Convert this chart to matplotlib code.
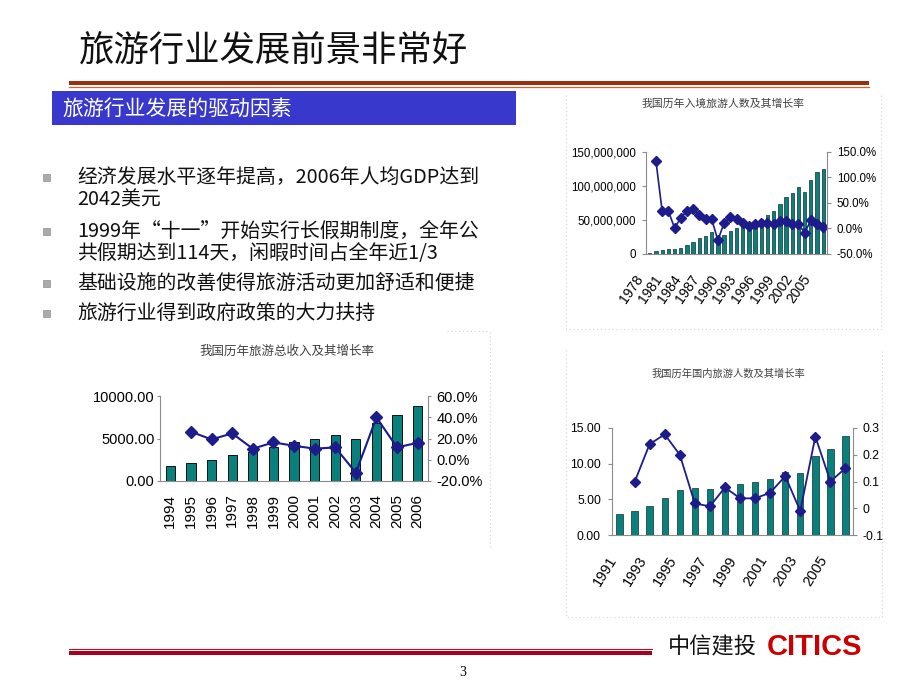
import matplotlib
matplotlib.use('Agg')
import matplotlib.pyplot as plt
from matplotlib import font_manager
from matplotlib.patches import Rectangle
from matplotlib.ticker import FixedLocator, FuncFormatter
from matplotlib.transforms import ScaledTranslation

# ---------------- data ----------------
page_title = "旅游行业发展前景非常好"
section_title = "旅游行业发展的驱动因素"
bullets = [
    ["经济发展水平逐年提高，2006年人均GDP达到", "2042美元"],
    ["1999年“十一”开始实行长假期制度，全年公", "共假期达到114天，闲暇时间占全年近1/3"],
    ["基础设施的改善使得旅游活动更加舒适和便捷"],
    ["旅游行业得到政府政策的大力扶持"],
]

inbound_title = "我国历年入境旅游人数及其增长率"
inbound_years = list(range(1978, 2007))
inbound_visitors = [1.81e6, 4.20e6, 5.70e6, 7.77e6, 7.92e6, 9.48e6, 12.85e6, 17.83e6,
                    22.82e6, 26.90e6, 31.69e6, 24.50e6, 27.46e6, 33.35e6, 38.11e6,
                    41.53e6, 43.68e6, 46.39e6, 51.13e6, 57.59e6, 63.48e6, 72.80e6,
                    83.44e6, 89.01e6, 97.91e6, 91.66e6, 109.04e6, 120.29e6, 124.94e6]
inbound_growth = [1.33, 0.345, 0.345, 0.013, 0.20, 0.35, 0.38, 0.26, 0.18, 0.18,
                  -0.23, 0.11, 0.22, 0.18, 0.10, 0.05, 0.08, 0.10, 0.11, 0.08,
                  0.15, 0.15, 0.08, 0.08, -0.08, 0.16, 0.08, 0.03]   # 1979-2006
inbound_left_ticks = [0, 50e6, 100e6, 150e6]
inbound_right_ticks = [-0.5, 0.0, 0.5, 1.0, 1.5]
inbound_xlabels = [str(y) for y in range(1978, 2007, 3)]

revenue_title = "我国历年旅游总收入及其增长率"
revenue_years = list(range(1994, 2007))
revenue = [1765, 2118, 2510, 3059, 3412, 4000, 4588, 4941, 5451, 4941, 6784, 7725, 8824]
revenue_growth = [0.264, 0.191, 0.248, 0.104, 0.163, 0.132, 0.104, 0.116,
                  -0.122, 0.398, 0.116, 0.160]   # 1995-2006
revenue_left_ticks = [0, 5000, 10000]
revenue_right_ticks = [-0.2, 0.0, 0.2, 0.4, 0.6]

domestic_title = "我国历年国内旅游人数及其增长率"
domestic_years = list(range(1991, 2007))
domestic = [2.89, 3.35, 4.00, 5.12, 6.29, 6.52, 6.44, 6.94, 7.19, 7.44, 7.84,
            8.78, 8.70, 11.02, 12.12, 13.94]
domestic_growth = [0.098, 0.24, 0.276, 0.20, 0.018, 0.007, 0.078, 0.037, 0.037,
                   0.058, 0.12, -0.01, 0.268, 0.10, 0.15]   # 1992-2006
domestic_left_ticks = [0, 5, 10, 15]
domestic_right_ticks = [-0.1, 0.0, 0.1, 0.2, 0.3]
domestic_right_labels = ["-0.1", "0", "0.1", "0.2", "0.3"]
domestic_xlabels = [str(y) for y in range(1991, 2007, 2)]

# ---------------- styling ----------------
names = {f.name for f in font_manager.fontManager.ttflist}
HAS_NARROW = 'Liberation Sans Narrow' in names
NUM = 'Liberation Sans Narrow' if HAS_NARROW else 'Liberation Sans'
NUM_SIZE = 10 if HAS_NARROW else 8.3
CJK = ['Noto Sans CJK SC', 'DejaVu Sans']
BAR = '#0A807C'
LINE = '#1C1C8C'
SPINE = '#8C8C8C'

W, H = 920, 690
fig = plt.figure(figsize=(9.2, 6.9), dpi=100)
bg = fig.add_axes([0, 0, 1, 1])
bg.set_xlim(0, W)
bg.set_ylim(H, 0)
bg.axis('off')


def px_axes(x0, y0, x1, y1):
    return fig.add_axes([x0 / W, 1 - y1 / H, (x1 - x0) / W, (y1 - y0) / H])


def shift_labels(labels, dx_px, dy_px):
    off = ScaledTranslation(dx_px / 100, -dy_px / 100, fig.dpi_scale_trans)
    for lab in labels:
        lab.set_transform(lab.get_transform() + off)


# ---------------- slide decoration ----------------
bg.text(79, 52, page_title, fontsize=25.5, family=CJK, ha='left', va='center', color='#111111')
bg.add_patch(Rectangle((69, 81), 800, 4, facecolor='#9A2E0E', edgecolor='none'))
bg.plot([69, 869], [87, 87], color='#D2642E', lw=0.9)
bg.add_patch(Rectangle((52, 91), 464, 34, facecolor='#3838CC', edgecolor='none'))
bg.text(62, 109, section_title, fontsize=15, family=CJK, color='white', ha='left', va='center')

line_y = [[177, 200], [231, 253], [283], [313]]
for blines, ys in zip(bullets, line_y):
    bg.add_patch(Rectangle((43, ys[0] - 3.5), 7, 7, facecolor='#ABABAB', edgecolor='#909090', lw=0.5))
    for txt, y in zip(blines, ys):
        bg.text(77, y, txt, fontsize=14.3, family=CJK, ha='left', va='center', color='#111111')

# bottom line, page number, logo
bg.plot([69, 652], [648.5, 648.5], color='#B0102E', lw=0.8)
bg.add_patch(Rectangle((69, 651), 583, 4, facecolor='#A8001E', edgecolor='none'))
bg.text(463, 673, "3", fontsize=10, family='Liberation Serif', ha='center', va='center')
bg.text(668, 647, "中信建投", fontsize=16, family=CJK, ha='left', va='center', color='#111111')
bg.text(767, 647, "CITICS", fontsize=21, family='Liberation Sans', weight='bold',
        ha='left', va='center', color='#CC0000')

# faint dotted frames of the pasted chart images
fr = dict(color='#D4D4D4', lw=0.8, ls=(0, (1, 2.5)))
bg.plot([566, 566, 881, 881], [95, 329, 329, 95], **fr)
bg.plot([566, 566, 882, 882], [350, 617, 617, 350], **fr)
bg.plot([490, 490], [332, 548], **fr)
bg.plot([447, 490], [331, 331], **fr)


def style_axes(ax, axr, fam, ysize, lpad, rpad, tlen):
    for s in ['top', 'right']:
        ax.spines[s].set_visible(False)
    for s in ['top', 'left', 'bottom']:
        axr.spines[s].set_visible(False)
    for sp in [ax.spines['left'], ax.spines['bottom'], axr.spines['right']]:
        sp.set_color(SPINE)
        sp.set_linewidth(0.8)
    ax.tick_params(axis='y', length=tlen, color=SPINE, labelsize=ysize, pad=lpad)
    axr.tick_params(axis='y', length=tlen, color=SPINE, labelsize=ysize, pad=rpad)
    for lab in ax.get_yticklabels() + axr.get_yticklabels():
        lab.set_family(fam)
    ax.set_facecolor('none')
    axr.set_facecolor('none')


# ---------------- chart 1: inbound visitors ----------------
bg.text(723, 104, inbound_title, fontsize=7.8, family=CJK, color='#404040', ha='center', va='center')
ax1 = px_axes(646, 152, 827, 254)
x1 = list(range(len(inbound_years)))
ax1.bar(x1, inbound_visitors, width=0.52, color=BAR, edgecolor='#0E2E2C', lw=0.5)
ax1.set_xlim(-0.6, len(x1) - 0.4)
ax1.set_ylim(0, 150e6)
ax1.yaxis.set_major_locator(FixedLocator(inbound_left_ticks))
ax1.yaxis.set_major_formatter(FuncFormatter(lambda v, p: f"{v:,.0f}"))
ax1r = ax1.twinx()
ax1r.plot(x1[1:], inbound_growth, color=LINE, lw=1.2, marker='D', ms=5, mfc=LINE, mec=LINE)
ax1r.set_ylim(-0.5, 1.5)
ax1r.yaxis.set_major_locator(FixedLocator(inbound_right_ticks))
ax1r.yaxis.set_major_formatter(FuncFormatter(lambda v, p: f"{v*100:.1f}%"))
xt1 = [inbound_years.index(int(s)) for s in inbound_xlabels]
ax1.set_xticks(xt1)
ax1.set_xticklabels(inbound_xlabels, rotation=55, ha='right', va='center', rotation_mode='anchor',
                    family='Liberation Sans', fontsize=10)
ax1.tick_params(axis='x', length=0, pad=16)
shift_labels(ax1.get_xticklabels(), -9, 0)
style_axes(ax1, ax1r, NUM, NUM_SIZE, 4, 4, 3)

# ---------------- chart 2: revenue ----------------
bg.text(287, 351, revenue_title, fontsize=9, family=CJK, color='#404040', ha='center', va='center')
ax2 = px_axes(160, 396, 428, 481)
x2 = list(range(len(revenue_years)))
ax2.bar(x2, revenue, width=0.45, color=BAR, edgecolor='#111111', lw=0.7)
ax2.set_xlim(-0.5, len(x2) - 0.5)
ax2.set_ylim(0, 10000)
ax2.yaxis.set_major_locator(FixedLocator(revenue_left_ticks))
ax2.yaxis.set_major_formatter(FuncFormatter(lambda v, p: f"{v:.2f}"))
ax2r = ax2.twinx()
ax2r.plot(x2[1:], revenue_growth, color=LINE, lw=1.5, marker='D', ms=6, mfc=LINE, mec=LINE)
ax2r.set_ylim(-0.2, 0.6)
ax2r.yaxis.set_major_locator(FixedLocator(revenue_right_ticks))
ax2r.yaxis.set_major_formatter(FuncFormatter(lambda v, p: f"{v*100:.1f}%"))
ax2.set_xticks(x2)
ax2.set_xticklabels([str(y) for y in revenue_years], rotation=90, ha='center', va='top',
                    family='Liberation Sans', fontsize=11)
ax2.tick_params(axis='x', length=0, pad=9)
style_axes(ax2, ax2r, 'Liberation Sans', 10.5, 2, 4, 2)

# ---------------- chart 3: domestic visitors ----------------
bg.text(728, 374, domestic_title, fontsize=7.4, family=CJK, color='#404040', ha='center', va='center')
ax3 = px_axes(612, 428, 853, 535)
x3 = list(range(len(domestic_years)))
ax3.bar(x3, domestic, width=0.42, color=BAR, edgecolor='#0E2E2C', lw=0.5)
ax3.set_xlim(-0.5, len(x3) - 0.5)
ax3.set_ylim(0, 15)
ax3.yaxis.set_major_locator(FixedLocator(domestic_left_ticks))
ax3.yaxis.set_major_formatter(FuncFormatter(lambda v, p: f"{v:.2f}"))
ax3r = ax3.twinx()
ax3r.plot(x3[1:], domestic_growth, color=LINE, lw=1.3, marker='D', ms=5.5, mfc=LINE, mec=LINE)
ax3r.set_ylim(-0.1, 0.3)
ax3r.yaxis.set_major_locator(FixedLocator(domestic_right_ticks))
ax3r.set_yticklabels(domestic_right_labels)
xt3 = [domestic_years.index(int(s)) for s in domestic_xlabels]
ax3.set_xticks(xt3)
ax3.set_xticklabels(domestic_xlabels, rotation=58, ha='right', va='center', rotation_mode='anchor',
                    family='Liberation Sans', fontsize=10.5)
ax3.tick_params(axis='x', length=0, pad=16)
shift_labels(ax3.get_xticklabels(), -6, 0)
style_axes(ax3, ax3r, NUM, NUM_SIZE + 0.5, 5, 4, 3)

fig.savefig('out.png', dpi=100)
